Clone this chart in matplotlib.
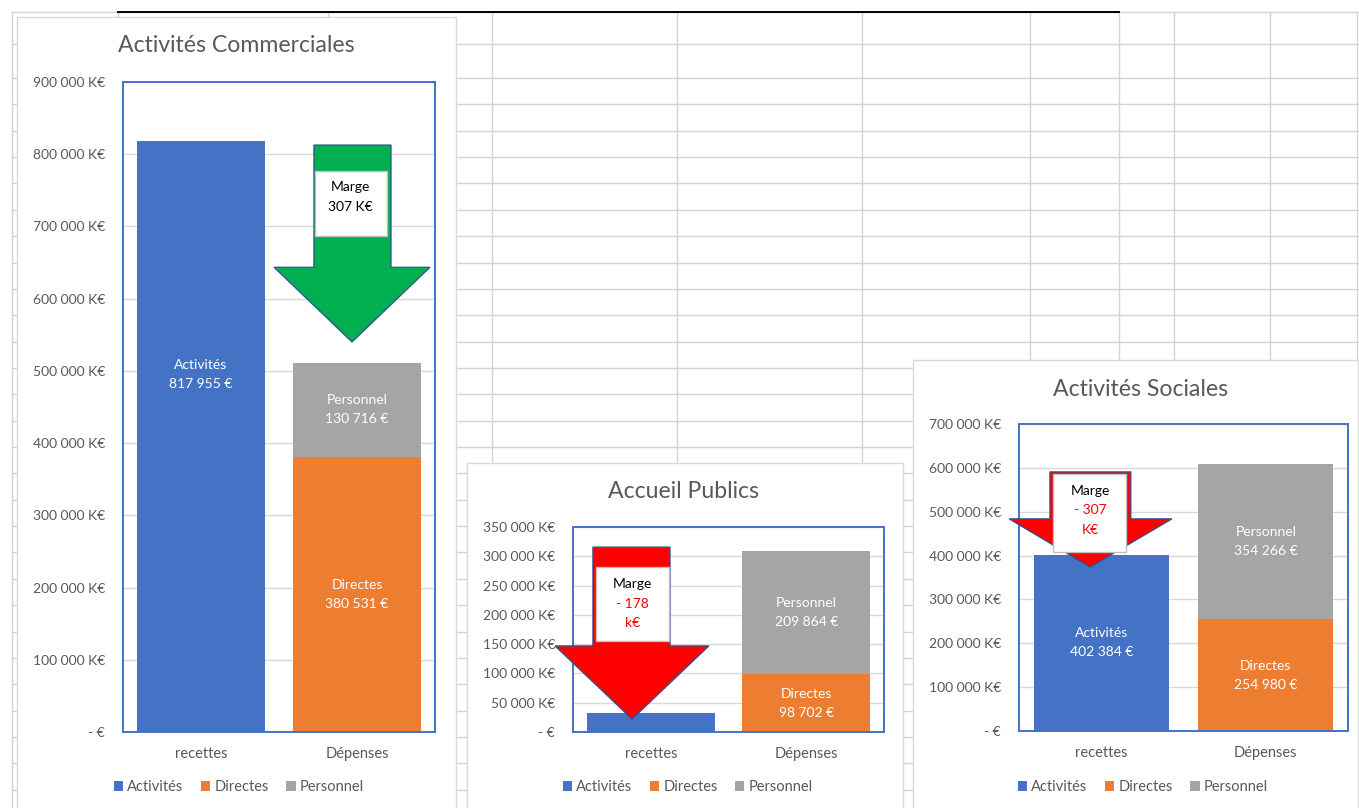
import matplotlib
matplotlib.use("Agg")
import matplotlib.pyplot as plt
from matplotlib.patches import Polygon, Rectangle
from matplotlib.ticker import FuncFormatter, MultipleLocator
import numpy as np

plt.rcParams['font.family'] = ['Lato', 'DejaVu Sans']

# ---------------- data ----------------
categories = ['recettes', 'Dépenses']
series_names = ['Activités', 'Directes', 'Personnel']

titles = ['Activités Commerciales', 'Accueil Publics', 'Activités Sociales']

commerciales_activites = [817955, 0]
commerciales_directes = [0, 380531]
commerciales_personnel = [0, 130716]

accueil_activites = [32000, 0]
accueil_directes = [0, 98702]
accueil_personnel = [0, 209864]

sociales_activites = [402384, 0]
sociales_directes = [0, 254980]
sociales_personnel = [0, 354266]

y_max = [900000, 350000, 700000]
y_step = [100000, 50000, 100000]

marge_values = ['307 K€', '- 178', '- 307']
marge_units = ['', 'k€', 'K€']
marge_positive = [True, False, False]

# show labels for activites bar (hidden behind arrow in Accueil)
show_act_label = [True, False, True]

# ---------------- style ----------------
W, H = 1359, 808
BLUE = '#4472C4'
ORANGE = '#ED7D31'
GRAY = '#A5A5A5'
TXT = '#595959'
GRID = '#D9D9D9'
SHEET = '#D4D4D4'
GREEN = '#00B050'
RED = '#FF0000'
ARROW_EDGE = '#2F528F'

fig = plt.figure(figsize=(W / 100, H / 100), dpi=100)
fig.patch.set_facecolor('white')

# background spreadsheet
bg = fig.add_axes([0, 0, 1, 1])
bg.set_xlim(0, W)
bg.set_ylim(H, 0)
bg.axis('off')
col_x = [12, 118, 328, 492, 677, 862, 1030, 1119, 1174, 1270, 1357]
row_y = [12, 44] + list(78 + 26.36 * np.arange(0, 28))
for x in col_x:
    bg.plot([x, x], [12, H], color=SHEET, lw=1.0, zorder=1)
for y in row_y:
    bg.plot([12, W], [y, y], color=SHEET, lw=1.0, zorder=1)
bg.plot([118, 1119], [12, 12], color='black', lw=1.4, zorder=2)

panels = [(17, 17, 456, 812), (467, 463, 903, 812), (913, 360, 1358, 812)]
for (x0, y0, x1, y1) in panels:
    bg.add_patch(Rectangle((x0, y0), x1 - x0, y1 - y0, facecolor='white',
                           edgecolor=GRID, lw=1.0, zorder=3))


def fig_rect(x0, y0, x1, y1):
    return [x0 / W, 1 - y1 / H, (x1 - x0) / W, (y1 - y0) / H]


plot_areas = [(123, 82, 435, 732), (573, 527, 884, 732), (1019, 424, 1348, 731)]
title_pos = [(236, 46), (684, 492), (1141, 389)]
legend_pos = [(239, 787), (688, 787), (1143, 787)]

# arrow geometry in axes fraction: shaft left, shaft right, top, head base, head left, head right, tip x, tip y
arrows = [
    (0.612, 0.859, 0.903, 0.715, 0.484, 0.984, 0.734, 0.600),
    (0.064, 0.312, 0.902, 0.420, -0.058, 0.437, 0.190, 0.063),
    (0.094, 0.340, 0.844, 0.691, -0.030, 0.465, 0.216, 0.534),
]
# box x0, x1, y0, y1 in axes fraction
boxes = [
    (0.615, 0.846, 0.763, 0.863),
    (0.074, 0.309, 0.444, 0.805),
    (0.103, 0.325, 0.583, 0.837),
]
# text line positions (axes fraction): marge, value, unit
text_lines = [
    (0.730, 0.838, 0.808, None),
    (0.191, 0.722, 0.624, 0.532),
    (0.216, 0.782, 0.720, 0.655),
]
act_label_frac = [0.606, 0.5, 0.5]

all_data = [
    (commerciales_activites, commerciales_directes, commerciales_personnel),
    (accueil_activites, accueil_directes, accueil_personnel),
    (sociales_activites, sociales_directes, sociales_personnel),
]


def yfmt(v, pos):
    if abs(v) < 1:
        return '- €'
    return f'{int(round(v)):,}'.replace(',', ' ') + ' K€'


def vfmt(v):
    return f'{int(round(v)):,}'.replace(',', ' ') + ' €'


LS = 1.7
x = np.arange(len(categories))
for i in range(3):
    act, dirc, pers = all_data[i]
    ax = fig.add_axes(fig_rect(*plot_areas[i]))
    ax.set_facecolor('none')
    b1 = ax.bar(x, act, width=0.82, color=BLUE, label=series_names[0], zorder=2)
    b2 = ax.bar(x, dirc, width=0.82, color=ORANGE, label=series_names[1], zorder=2)
    b3 = ax.bar(x, pers, width=0.82, bottom=dirc, color=GRAY, label=series_names[2], zorder=2)
    ax.set_xlim(-0.5, 1.5)
    ax.set_ylim(0, y_max[i])
    ax.yaxis.set_major_locator(MultipleLocator(y_step[i]))
    ax.yaxis.set_major_formatter(FuncFormatter(yfmt))
    ax.set_xticks(x)
    ax.set_xticklabels(categories)
    ax.tick_params(axis='y', length=0, pad=13, labelsize=10, labelcolor=TXT)
    ax.tick_params(axis='x', length=0, pad=10.5, labelsize=10.5, labelcolor=TXT)
    ax.yaxis.grid(True, color=GRID, lw=1.0, zorder=0)
    ax.set_axisbelow(True)
    for sp in ax.spines.values():
        sp.set_color(BLUE)
        sp.set_linewidth(1.4)
        sp.set_zorder(3)

    # value labels
    if show_act_label[i]:
        ax.text(x[0], act[0] * act_label_frac[i], f'{series_names[0]}\n{vfmt(act[0])}',
                ha='center', va='center', color='white', fontsize=10, linespacing=LS, zorder=4)
    ax.text(x[1], dirc[1] / 2, f'{series_names[1]}\n{vfmt(dirc[1])}',
            ha='center', va='center', color='white', fontsize=10, linespacing=LS, zorder=4)
    ax.text(x[1], dirc[1] + pers[1] / 2, f'{series_names[2]}\n{vfmt(pers[1])}',
            ha='center', va='center', color='white', fontsize=10, linespacing=LS, zorder=4)

    # arrow
    sl, sr, top, hb, hl, hr, tx, ty = arrows[i]
    verts = [(sl, top), (sr, top), (sr, hb), (hr, hb), (tx, ty), (hl, hb), (sl, hb)]
    ax.add_patch(Polygon(verts, closed=True, transform=ax.transAxes, clip_on=False,
                         facecolor=GREEN if marge_positive[i] else RED,
                         edgecolor=ARROW_EDGE, lw=0.9, zorder=5))
    bx0, bx1, by0, by1 = boxes[i]
    ax.add_patch(Rectangle((bx0, by0), bx1 - bx0, by1 - by0, transform=ax.transAxes,
                           clip_on=False, facecolor='white', edgecolor='#BFBFBF', lw=1.0, zorder=6))
    cx, y_m, y_v, y_u = text_lines[i]
    ax.text(cx, y_m, 'Marge', transform=ax.transAxes, ha='center', va='center',
            fontsize=10, color='black', zorder=7)
    ax.text(cx, y_v, marge_values[i], transform=ax.transAxes, ha='center', va='center',
            fontsize=10, color='black' if marge_positive[i] else RED, zorder=7)
    if y_u is not None:
        ax.text(cx, y_u, marge_units[i], transform=ax.transAxes, ha='center', va='center',
                fontsize=10, color=RED, zorder=7)

    # title
    tx_, ty_ = title_pos[i]
    fig.text(tx_ / W, 1 - ty_ / H, titles[i], ha='center', va='center', fontsize=16.6, color=TXT)

    # legend
    lx, ly = legend_pos[i]
    ax.legend(handles=[b1, b2, b3], loc='center', bbox_to_anchor=(lx / W, 1 - ly / H),
              bbox_transform=fig.transFigure, ncol=3, frameon=False, fontsize=10.5,
              labelcolor=TXT, handlelength=0.62, handleheight=0.62, handletextpad=0.3,
              columnspacing=1.2, borderpad=0)

fig.savefig('out.png', dpi=100, facecolor='white')
